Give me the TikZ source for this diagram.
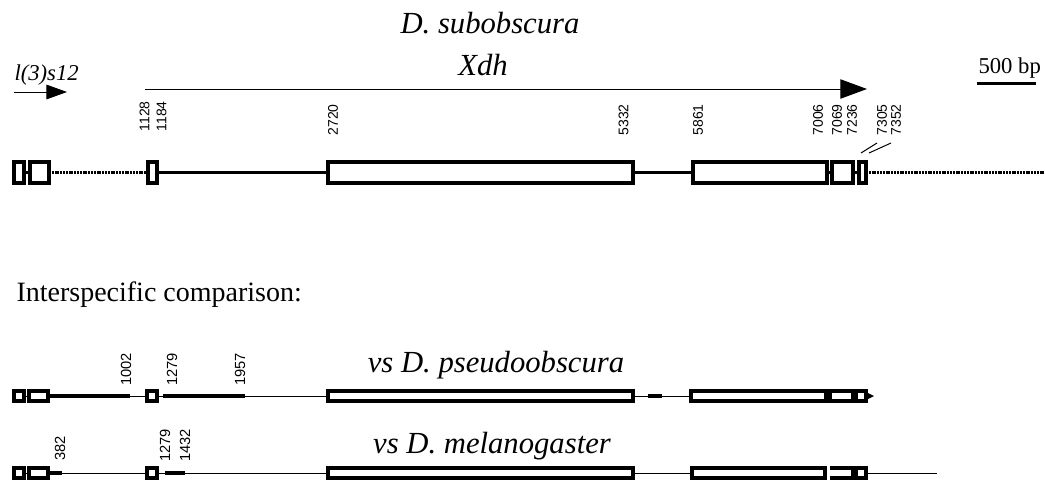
\documentclass[tikz,border=0pt]{standalone}
\usepackage{fontspec}
\setmainfont{Liberation Serif}
\setsansfont{Liberation Sans}
\usetikzlibrary{arrows.meta}

\tikzset{every picture/.style={line width=0.75pt}}
\tikzset{
  exon/.style={line width=2.4pt},
  intron/.style={line width=2.25pt},
  nointron/.style={line width=2.25pt,dash pattern=on 1.5pt off 0.6pt},
  aligned/.style={line width=3.4pt},
  unaligned/.style={line width=0.7pt},
  poslabel/.style={rotate=90,anchor=west,inner sep=0.75pt,font=\sffamily\fontsize{10.5}{12}\selectfont},
  poslabelb/.style={poslabel,font=\sffamily\fontsize{11}{13}\selectfont},
}

\begin{document}
\begin{tikzpicture}[x=0.75pt,y=0.75pt,yscale=-1,xscale=1]
	\path[use as bounding box] (0,0) rectangle (1045,482);
	
	% Text Node
	\draw (490,33) node (species) [anchor=base][inner sep=0.75pt] [font=\fontsize{23}{27}\selectfont\itshape] {D. subobscura};
	% Text Node
	\draw (483,75) node (gene) [anchor=base][inner sep=0.75pt] [font=\fontsize{23}{27}\selectfont\itshape] {Xdh};
	% Text Node
	\draw (13,80) node (lgene) [anchor=base west][inner sep=0.75pt] [font=\fontsize{17}{20}\selectfont\itshape] {l(3)s12};
	% Text Node
	\draw (977,73) node (scale) [anchor=base west][inner sep=0.75pt] [font=\fontsize{17}{20}\selectfont] {500 bp};
	%Straight Lines (scale bar)
	\draw [line width=2.4pt] (977,83.5) -- (1036,83.5) ;
	
	%Arrows: transcripts
	\draw [-{Triangle[length=20pt,width=14.5pt]}] (145,89) -- (867,89) ;
	\draw [-{Triangle[length=15.5pt,width=11pt]}] (14,92) -- (67,92) ;
	
	%Gene: D. subobscura
	\draw [nointron] (49,172.5) -- (148,172.5) ;
	\draw [intron] (24,172.5) -- (30,172.5) ;
	\draw [intron] (157,172.5) -- (328,172.5) ;
	\draw [intron] (633,172.5) -- (693,172.5) ;
	\draw [intron] (827,172.5) -- (832,172.5) ;
	\draw [intron] (853,172.5) -- (859,172.5) ;
	\draw [nointron] (866,172.5) -- (1045,172.5) ;
	\draw [exon] (14,162) rectangle (24,183) ;
	\draw [exon] (30,162) rectangle (49,183) ;
	\draw [exon] (148,162) rectangle (157,183) ;
	\draw [exon] (328,162) rectangle (633,183) ;
	\draw [exon] (693,162) rectangle (827,183) ;
	\draw [exon] (832,162) rectangle (853,183) ;
	\draw [exon] (859,162) rectangle (866,183) ;
	%Straight Lines (breaks)
	\draw (861,153) -- (877,143) ;
	\draw (869,153) -- (891,143) ;
	
	% Position labels
	\draw (144.5,133) node (p1128) [poslabel] {1128};
	\draw (161.5,133) node (p1184) [poslabel] {1184};
	\draw (333,137) node (p2720) [poslabel] {2720};
	\draw (623.5,137) node (p5332) [poslabel] {5332};
	\draw (698,137) node (p5861) [poslabel] {5861};
	\draw (818,137) node (p7006) [poslabel] {7006};
	\draw (837,137) node (p7069) [poslabel] {7069};
	\draw (852,137) node (p7236) [poslabel] {7236};
	\draw (882,137) node (p7305) [poslabel] {7305};
	\draw (896,137) node (p7352) [poslabel] {7352};
	
	% Text Node
	\draw (15,301) node (compare) [anchor=base west][inner sep=0.75pt] [font=\fontsize{21}{25}\selectfont] {Interspecific comparison:};
	
	%Comparison: D. pseudoobscura
	\draw (496,372) node (pseudo) [anchor=base][inner sep=0.75pt] [font=\fontsize{23}{27}\selectfont\itshape] {vs D. pseudoobscura};
	\draw [unaligned] (24,396) -- (29,396) ;
	\draw [aligned] (48,396) -- (130,396) ;
	\draw [unaligned] (130,396) -- (147,396) ;
	\draw [unaligned] (157,396) -- (163,396) ;
	\draw [aligned] (163,396) -- (245,396) ;
	\draw [unaligned] (245,396) -- (328,396) ;
	\draw [unaligned] (633,396) -- (648,396) ;
	\draw [aligned] (648,396) -- (662,396) ;
	\draw [unaligned] (662,396) -- (691,396) ;
	\draw [unaligned] (826,396) -- (830,396) ;
	\draw [unaligned] (853,396) -- (856,396) ;
	\draw [exon] (14,391) rectangle (24,401) ;
	\draw [exon] (29,391) rectangle (48,401) ;
	\draw [exon] (147,391) rectangle (157,401) ;
	\draw [exon] (328,391) rectangle (633,401) ;
	\draw [exon] (691,391) rectangle (826,401) ;
	\draw [exon] (830,391) rectangle (853,401) ;
	\draw [exon] (856,391) rectangle (866,401) ;
	\fill (866,392) -- (874,396) -- (866,400) -- cycle ;
	\draw (126,387) node (q1002) [poslabelb] {1002};
	\draw (172,387) node (q1279) [poslabelb] {1279};
	\draw (240,387) node (q1957) [poslabelb] {1957};
	
	%Comparison: D. melanogaster
	\draw (492,453) node (melano) [anchor=base][inner sep=0.75pt] [font=\fontsize{23}{27}\selectfont\itshape] {vs D. melanogaster};
	\draw [unaligned] (24,473) -- (29,473) ;
	\draw [aligned] (48,473) -- (62,473) ;
	\draw [unaligned] (62,473) -- (147,473) ;
	\draw [unaligned] (157,473) -- (165,473) ;
	\draw [aligned] (165,473) -- (185,473) ;
	\draw [unaligned] (185,473) -- (328,473) ;
	\draw [unaligned] (633,473) -- (692,473) ;
	\draw [unaligned] (866,473) -- (937,473) ;
	\draw [exon] (14,468) rectangle (24,478) ;
	\draw [exon] (29,468) rectangle (48,478) ;
	\draw [exon] (147,468) rectangle (157,478) ;
	\draw [exon] (328,468) rectangle (633,478) ;
	\draw [exon] (692,468) rectangle (825,478) ;
	\draw [exon] (830,468) -- (853,468) -- (853,478) -- (830,478) ;
	\draw [exon] (856,468) rectangle (866,478) ;
	\draw (60,462) node (r382) [poslabelb] {382};
	\draw (165,463) node (r1279) [poslabelb] {1279};
	\draw (185,463) node (r1432) [poslabelb] {1432};
	
\end{tikzpicture}
\end{document}
